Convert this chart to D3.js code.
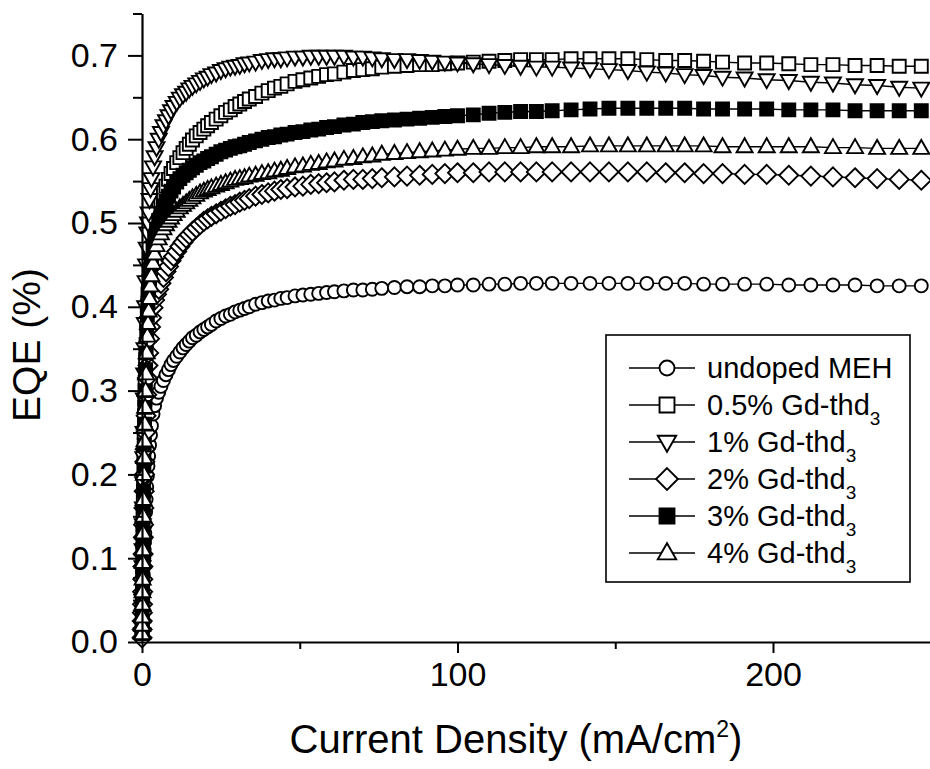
<!DOCTYPE html>
<html>
<head>
<meta charset="utf-8">
<script src="https://cdn.jsdelivr.net/npm/d3@7"></script>
<style>
  body { margin: 0; background: #fff; }
  svg { display: block; font-family: "Liberation Sans", Arial, Helvetica, sans-serif; }
</style>
</head>
<body>
<svg width="930" height="769"></svg>
<script>
// current density (mA/cm2), shared sample grid
var currentDensity = [
  0.02, 0.05, 0.08, 0.12, 0.16, 0.2, 0.25, 0.3, 0.36, 0.43,
  0.5, 0.6, 0.7, 0.8, 0.9, 1.0, 1.15, 1.3, 1.5, 1.7,
  1.9, 2.1, 2.4, 2.7, 3, 3.5, 4, 4.6, 5.3, 6,
  6.8, 7.6, 8.4, 9.2, 10, 11, 12, 13, 14, 15,
  16, 17.2, 18.4, 19.6, 20.8, 22, 23.5, 25, 26.5, 28,
  29.5, 31, 32.5, 34, 36, 38, 40, 42, 44, 46,
  48.5, 51, 53.5, 56, 58.5, 61, 64, 67, 70, 73,
  76, 80, 84, 88, 92, 96, 100, 105, 110, 115,
  120, 125, 130, 136, 142, 148, 154, 160, 166, 172,
  178, 184, 191, 198, 205, 212, 219, 226, 233, 240,
  247
];

// EQE (%) per device
var eqeUndoped = [
  0.005, 0.01, 0.015, 0.02, 0.03, 0.04, 0.05, 0.06, 0.07, 0.08,
  0.09, 0.10, 0.11, 0.12, 0.13, 0.14, 0.155, 0.17, 0.185, 0.198,
  0.21, 0.222, 0.235, 0.247, 0.258, 0.272, 0.282, 0.291, 0.298, 0.305,
  0.312, 0.319, 0.325, 0.331, 0.336, 0.341, 0.346, 0.351, 0.355, 0.359,
  0.363, 0.366, 0.370, 0.373, 0.376, 0.379, 0.383, 0.386, 0.389, 0.391,
  0.394, 0.396, 0.398, 0.400, 0.403, 0.405, 0.407, 0.408, 0.410, 0.411,
  0.413, 0.414, 0.415, 0.416, 0.417, 0.418, 0.419, 0.420, 0.420, 0.421,
  0.422, 0.423, 0.424, 0.424, 0.425, 0.425, 0.426, 0.426, 0.427, 0.427,
  0.428, 0.428, 0.428, 0.428, 0.428, 0.428, 0.428, 0.428, 0.428, 0.428,
  0.427, 0.427, 0.427, 0.427, 0.426, 0.426, 0.426, 0.426, 0.425, 0.425,
  0.425
];
var eqeGd05 = [
  0.01, 0.02, 0.04, 0.05, 0.07, 0.09, 0.11, 0.13, 0.15, 0.17,
  0.19, 0.22, 0.25, 0.27, 0.29, 0.31, 0.335, 0.355, 0.38, 0.40,
  0.415, 0.43, 0.445, 0.457, 0.47, 0.485, 0.497, 0.508, 0.518, 0.527,
  0.536, 0.544, 0.552, 0.559, 0.565, 0.572, 0.578, 0.584, 0.589, 0.594,
  0.599, 0.604, 0.608, 0.612, 0.616, 0.620, 0.624, 0.628, 0.632, 0.635,
  0.639, 0.642, 0.645, 0.648, 0.651, 0.655, 0.658, 0.661, 0.663, 0.666,
  0.669, 0.671, 0.673, 0.675, 0.677, 0.678, 0.680, 0.682, 0.683, 0.684,
  0.686, 0.687, 0.688, 0.689, 0.689, 0.690, 0.691, 0.692, 0.693, 0.694,
  0.695, 0.695, 0.695, 0.696, 0.696, 0.696, 0.696, 0.695, 0.694, 0.694,
  0.693, 0.692, 0.691, 0.691, 0.690, 0.689, 0.689, 0.688, 0.688, 0.687,
  0.687
];
var eqeGd1 = [
  0.01, 0.03, 0.05, 0.07, 0.09, 0.11, 0.14, 0.16, 0.19, 0.22,
  0.25, 0.29, 0.32, 0.35, 0.38, 0.40, 0.43, 0.45, 0.47, 0.488,
  0.50, 0.512, 0.528, 0.541, 0.553, 0.567, 0.579, 0.590, 0.600, 0.608,
  0.616, 0.622, 0.628, 0.634, 0.639, 0.644, 0.649, 0.653, 0.656, 0.660,
  0.663, 0.666, 0.669, 0.672, 0.674, 0.677, 0.679, 0.682, 0.684, 0.686,
  0.687, 0.688, 0.690, 0.691, 0.692, 0.694, 0.695, 0.696, 0.696, 0.697,
  0.698, 0.698, 0.699, 0.699, 0.699, 0.699, 0.699, 0.698, 0.698, 0.697,
  0.696, 0.695, 0.695, 0.694, 0.693, 0.692, 0.691, 0.690, 0.689, 0.688,
  0.687, 0.686, 0.686, 0.685, 0.684, 0.683, 0.682, 0.680, 0.679, 0.677,
  0.676, 0.674, 0.673, 0.671, 0.670, 0.668, 0.667, 0.665, 0.664, 0.662,
  0.661
];
var eqeGd2 = [
  0.005, 0.015, 0.025, 0.035, 0.045, 0.06, 0.075, 0.09, 0.105, 0.125,
  0.14, 0.16, 0.18, 0.20, 0.215, 0.23, 0.25, 0.27, 0.295, 0.315,
  0.33, 0.345, 0.362, 0.376, 0.387, 0.399, 0.408, 0.415, 0.421, 0.428,
  0.435, 0.442, 0.448, 0.455, 0.460, 0.466, 0.472, 0.477, 0.482, 0.486,
  0.490, 0.494, 0.498, 0.502, 0.505, 0.508, 0.511, 0.514, 0.517, 0.520,
  0.522, 0.525, 0.527, 0.529, 0.532, 0.534, 0.536, 0.538, 0.540, 0.541,
  0.543, 0.544, 0.546, 0.547, 0.548, 0.549, 0.551, 0.552, 0.552, 0.553,
  0.554, 0.555, 0.556, 0.557, 0.558, 0.559, 0.560, 0.560, 0.561, 0.561,
  0.561, 0.561, 0.561, 0.561, 0.561, 0.561, 0.561, 0.561, 0.560, 0.560,
  0.559, 0.559, 0.558, 0.558, 0.557, 0.556, 0.555, 0.554, 0.553, 0.552,
  0.551
];
var eqeGd3 = [
  0.01, 0.02, 0.03, 0.045, 0.06, 0.08, 0.10, 0.12, 0.14, 0.16,
  0.18, 0.21, 0.235, 0.26, 0.28, 0.30, 0.325, 0.345, 0.37, 0.39,
  0.405, 0.42, 0.433, 0.445, 0.455, 0.470, 0.482, 0.493, 0.503, 0.511,
  0.519, 0.526, 0.532, 0.538, 0.543, 0.549, 0.553, 0.557, 0.560, 0.563,
  0.566, 0.569, 0.572, 0.574, 0.577, 0.579, 0.582, 0.585, 0.587, 0.589,
  0.591, 0.592, 0.594, 0.596, 0.598, 0.600, 0.602, 0.603, 0.605, 0.606,
  0.608, 0.609, 0.611, 0.612, 0.614, 0.615, 0.617, 0.618, 0.620, 0.621,
  0.622, 0.623, 0.624, 0.625, 0.626, 0.627, 0.628, 0.629, 0.631, 0.632,
  0.633, 0.633, 0.634, 0.635, 0.636, 0.637, 0.637, 0.637, 0.637, 0.637,
  0.636, 0.636, 0.636, 0.636, 0.635, 0.635, 0.635, 0.634, 0.634, 0.634,
  0.634
];
var eqeGd4 = [
  0.01, 0.02, 0.03, 0.045, 0.06, 0.075, 0.095, 0.11, 0.13, 0.15,
  0.17, 0.20, 0.22, 0.24, 0.26, 0.28, 0.30, 0.32, 0.345, 0.365,
  0.38, 0.395, 0.41, 0.425, 0.437, 0.452, 0.463, 0.473, 0.481, 0.487,
  0.493, 0.498, 0.502, 0.506, 0.510, 0.514, 0.518, 0.521, 0.524, 0.527,
  0.530, 0.533, 0.536, 0.538, 0.540, 0.542, 0.544, 0.546, 0.548, 0.550,
  0.552, 0.553, 0.554, 0.556, 0.557, 0.559, 0.560, 0.562, 0.563, 0.565,
  0.567, 0.568, 0.570, 0.571, 0.573, 0.574, 0.576, 0.577, 0.579, 0.580,
  0.582, 0.583, 0.584, 0.585, 0.586, 0.587, 0.588, 0.589, 0.589, 0.590,
  0.590, 0.591, 0.591, 0.591, 0.592, 0.592, 0.592, 0.592, 0.592, 0.592,
  0.592, 0.591, 0.591, 0.591, 0.591, 0.591, 0.590, 0.590, 0.589, 0.589,
  0.589
];

var seriesLabels = ["undoped MEH", "0.5% Gd-thd", "1% Gd-thd", "2% Gd-thd", "3% Gd-thd", "4% Gd-thd"];
var seriesSubscript = ["", "3", "3", "3", "3", "3"];
var seriesShapes = ["circle", "square", "triangleDown", "diamond", "squareFilled", "triangleUp"];
var seriesValues = [eqeUndoped, eqeGd05, eqeGd1, eqeGd2, eqeGd3, eqeGd4];

var yMajorTicks = [0, 0.1, 0.2, 0.3, 0.4, 0.5, 0.6, 0.7];
var yMinorTicks = [0.05, 0.15, 0.25, 0.35, 0.45, 0.55, 0.65, 0.75];
var xMajorTicks = [0, 100, 200];
var xMinorTicks = [50, 150];

var svg = d3.select("svg");

var x = d3.scaleLinear().domain([0, 250]).range([142, 930.75]);
var y = d3.scaleLinear().domain([0, 0.75]).range([642, 13.5]);

// marker outlines, centred on 0,0
function markerPath(shape, k) {
  k = k || 1;
  var p = d3.path();
  if (shape == "circle") {
    p.arc(0, 0, 6.5 * k, 0, 2 * Math.PI);
  } else if (shape == "square" || shape == "squareFilled") {
    p.rect(-6.5 * k, -6.5 * k, 13 * k, 13 * k);
  } else if (shape == "triangleDown") {
    p.moveTo(-8 * k, -5.5 * k); p.lineTo(8 * k, -5.5 * k); p.lineTo(0, 8.5 * k); p.closePath();
  } else if (shape == "triangleUp") {
    p.moveTo(-8 * k, 5.5 * k); p.lineTo(8 * k, 5.5 * k); p.lineTo(0, -8.5 * k); p.closePath();
  } else if (shape == "diamond") {
    p.moveTo(0, -9.5 * k); p.lineTo(9.5 * k, 0); p.lineTo(0, 9.5 * k); p.lineTo(-9.5 * k, 0); p.closePath();
  }
  return p.toString();
}

var line = d3.line()
    .x(function(d) { return x(d[0]); })
    .y(function(d) { return y(d[1]); });

// series: line then markers, drawn in legend order
seriesValues.forEach(function(vals, i) {
  var pts = currentDensity.map(function(c, j) { return [c, vals[j]]; });
  var g = svg.append("g").attr("class", "series");
  g.append("path")
      .datum(pts)
      .attr("d", line)
      .attr("fill", "none")
      .attr("stroke", "#000")
      .attr("stroke-width", 1.4);
  g.selectAll("path.mk")
    .data(pts)
    .enter().append("path")
      .attr("class", "mk")
      .attr("d", markerPath(seriesShapes[i]))
      .attr("transform", function(d) { return "translate(" + x(d[0]) + "," + y(d[1]) + ")"; })
      .attr("fill", seriesShapes[i] == "squareFilled" ? "#000" : "#fff")
      .attr("stroke", "#000")
      .attr("stroke-width", 1.9);
});

// axes
svg.append("g")
    .attr("transform", "translate(142,0)")
    .call(d3.axisLeft(y).tickValues(yMajorTicks).tickSize(14).tickSizeOuter(0).tickPadding(10)
      .tickFormat(d3.format(".1f")));
svg.append("g")
    .attr("transform", "translate(142,0)")
    .call(d3.axisLeft(y).tickValues(yMinorTicks).tickSize(9).tickSizeOuter(0).tickFormat(""))
    .select(".domain").remove();

svg.append("g")
    .attr("transform", "translate(0,642)")
    .call(d3.axisBottom(x).tickValues(xMajorTicks).tickSize(11).tickSizeOuter(0).tickPadding(9)
      .tickFormat(d3.format("d")));
svg.append("g")
    .attr("transform", "translate(0,642)")
    .call(d3.axisBottom(x).tickValues(xMinorTicks).tickSize(7).tickSizeOuter(0).tickFormat(""))
    .select(".domain").remove();

svg.selectAll(".domain").attr("stroke", "#000").attr("stroke-width", 2.2);
svg.selectAll(".tick line").attr("stroke", "#000").attr("stroke-width", 2);
svg.selectAll(".tick text")
    .attr("fill", "#000")
    .style("font-size", "34px")
    .style("font-family", "'Liberation Sans', Arial, sans-serif");

// axis titles
svg.append("text")
    .attr("transform", "translate(40,345) rotate(-90)")
    .attr("text-anchor", "middle")
    .style("font-size", "39px")
    .text("EQE (%)");

var xt = svg.append("text")
    .attr("x", 516)
    .attr("y", 753)
    .attr("text-anchor", "middle")
    .style("font-size", "40px");
xt.append("tspan").text("Current Density (mA/cm");
xt.append("tspan").attr("dy", -16).style("font-size", "23px").text("2");
xt.append("tspan").attr("dy", 16).text(")");

// legend
var legend = svg.append("g").attr("class", "legend");
legend.append("rect")
    .attr("x", 606).attr("y", 335)
    .attr("width", 304).attr("height", 247)
    .attr("fill", "#fff")
    .attr("stroke", "#000")
    .attr("stroke-width", 1.6);

var rowY = d3.scaleLinear().domain([0, 5]).range([368, 553]);

seriesLabels.forEach(function(lab, i) {
  var cy = rowY(i);
  legend.append("line")
      .attr("x1", 629).attr("x2", 695)
      .attr("y1", cy).attr("y2", cy)
      .attr("stroke", "#000").attr("stroke-width", 1.5);
  legend.append("path")
      .attr("d", markerPath(seriesShapes[i], 1.15))
      .attr("transform", "translate(667," + cy + ")")
      .attr("fill", seriesShapes[i] == "squareFilled" ? "#000" : "#fff")
      .attr("stroke", "#000")
      .attr("stroke-width", 1.9);
  var t = legend.append("text")
      .attr("x", 707)
      .attr("y", cy + 10)
      .style("font-size", "29px");
  t.append("tspan").text(lab);
  if (seriesSubscript[i]) {
    t.append("tspan").attr("dy", 10).style("font-size", "19px").text(seriesSubscript[i]);
  }
});
</script>
</body>
</html>
